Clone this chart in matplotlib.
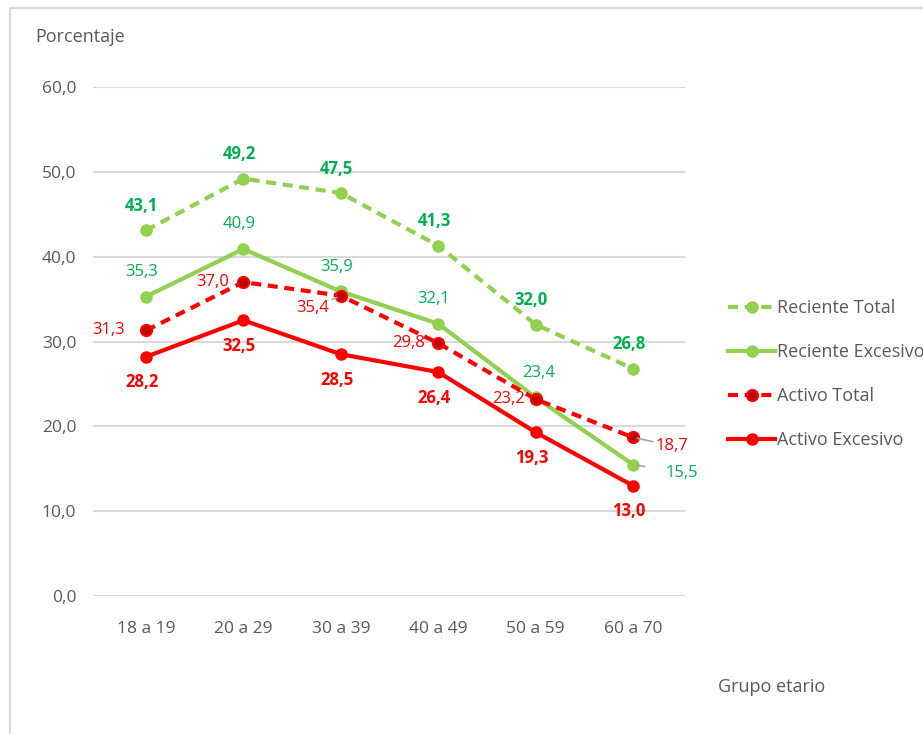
import matplotlib
matplotlib.use("Agg")
import matplotlib.pyplot as plt
from matplotlib.patches import Rectangle
from matplotlib import font_manager

categories = ["18 a 19", "20 a 29", "30 a 39", "40 a 49", "50 a 59", "60 a 70"]
reciente_total = [43.1, 49.2, 47.5, 41.3, 32.0, 26.8]
reciente_excesivo = [35.3, 40.9, 35.9, 32.1, 23.4, 15.5]
activo_total = [31.3, 37.0, 35.4, 29.8, 23.2, 18.7]
activo_excesivo = [28.2, 32.5, 28.5, 26.4, 19.3, 13.0]
yticks = [0, 10, 20, 30, 40, 50, 60]

avail = {f.name for f in font_manager.fontManager.ttflist}
fam = [f for f in ["Liberation Sans Narrow", "Open Sans", "DejaVu Sans"] if f in avail]
plt.rcParams['font.family'] = fam

light_green = "#92D050"
green_txt = "#00B050"
red = "#FF0000"
dark_red = "#C00000"
gray_txt = "#595959"

fig = plt.figure(figsize=(9.23, 7.34), dpi=100)
W, H = 923, 734
ax = fig.add_axes([93 / W, 1 - 596 / H, (685 - 93) / W, (596 - 87) / H])

# frame around chart
fig.patches.append(Rectangle((10 / W, -0.05), 1.0, (734 - 8) / H + 0.05,
                             transform=fig.transFigure, fill=False,
                             edgecolor="#D9D9D9", lw=1.5))

x = list(range(len(categories)))
lw = 3
ms = 8
ax.plot(x, reciente_total, color=light_green, lw=lw, ls=(0, (2.4, 1.6)),
        marker="o", ms=ms, mfc=light_green, mec=light_green, label="Reciente Total")
ax.plot(x, reciente_excesivo, color=light_green, lw=lw, marker="o", ms=ms,
        mfc=light_green, mec=light_green, label="Reciente Excesivo")
ax.plot(x, activo_total, color=red, lw=lw, ls=(0, (2.4, 1.6)), marker="o", ms=ms,
        mfc=dark_red, mec=red, mew=1.5, label="Activo Total")
ax.plot(x, activo_excesivo, color=red, lw=lw, marker="o", ms=ms,
        mfc=red, mec=red, label="Activo Excesivo")

ax.set_xlim(-0.544, 5.534)
ax.set_ylim(0, 60)
ax.set_yticks(yticks)
ax.set_yticklabels([f"{v:.1f}".replace(".", ",") for v in yticks])
ax.set_xticks(x)
ax.set_xticklabels(categories)
ax.tick_params(length=0, labelsize=12.5, colors=gray_txt)
ax.tick_params(axis="x", pad=18)
ax.tick_params(axis="y", pad=12)
ax.grid(axis="y", color="#D9D9D9", lw=1.5)
ax.set_axisbelow(True)
for s in ax.spines.values():
    s.set_visible(False)


def fmt(v):
    return f"{v:.1f}".replace(".", ",")


fs = 12
# Reciente Total: bold, above
for i, v in enumerate(reciente_total):
    ax.annotate(fmt(v), (i, v), xytext=(-3, 11), textcoords="offset points",
                ha="center", va="bottom", color=green_txt, fontsize=fs, fontweight="bold")
# Reciente Excesivo: normal, above (last to the right)
for i, v in enumerate(reciente_excesivo):
    if i == 5:
        ax.annotate(fmt(v), (i, v), xytext=(35, -6), textcoords="offset points",
                    ha="center", va="center", color=green_txt, fontsize=fs,
                    arrowprops=dict(arrowstyle="-", color="#A6A6A6", lw=1.2,
                                    shrinkA=13, shrinkB=3))
    else:
        dx = 2 if i == 4 else -3
        ax.annotate(fmt(v), (i, v), xytext=(dx, 12), textcoords="offset points",
                    ha="center", va="bottom", color=green_txt, fontsize=fs)
# Activo Total: normal, left
at_off = [(-27, 0), (-22, 0), (-20, -9), (-21, 0), (-19.5, 0), (28, -6)]
for i, v in enumerate(activo_total):
    dx, dy = at_off[i]
    if i == 2:
        ax.annotate(fmt(v), (i, v), xytext=(dx, dy), textcoords="offset points",
                    ha="center", va="center", color=red, fontsize=fs,
                    arrowprops=dict(arrowstyle="-", color="#A6A6A6", lw=1.2,
                                    shrinkA=12, shrinkB=3))
    elif i == 5:
        ax.annotate(fmt(v), (i, v), xytext=(dx, dy), textcoords="offset points",
                    ha="center", va="center", color=red, fontsize=fs,
                    arrowprops=dict(arrowstyle="-", color="#A6A6A6", lw=1.2,
                                    shrinkA=15, shrinkB=3))
    else:
        ax.annotate(fmt(v), (i, v), xytext=(dx, dy), textcoords="offset points",
                    ha="center", va="center", color=red, fontsize=fs)
# Activo Excesivo: bold, below
for i, v in enumerate(activo_excesivo):
    ax.annotate(fmt(v), (i, v), xytext=(-3, -12), textcoords="offset points",
                ha="center", va="top", color=red, fontsize=fs, fontweight="bold")

fig.text(35 / W, 1 - 37 / H, "Porcentaje", ha="left", va="center",
         fontsize=13, color=gray_txt)
fig.text(718 / W, 1 - 687 / H, "Grupo etario", ha="left", va="center",
         fontsize=13, color=gray_txt)

leg = ax.legend(loc="center left", bbox_to_anchor=(712 / W, 1 - 374 / H),
                bbox_transform=fig.transFigure, frameon=False, fontsize=13,
                labelspacing=1.44, handlelength=2.6, handletextpad=0.1,
                labelcolor=gray_txt)

fig.savefig("out.png", dpi=100, facecolor="white")
